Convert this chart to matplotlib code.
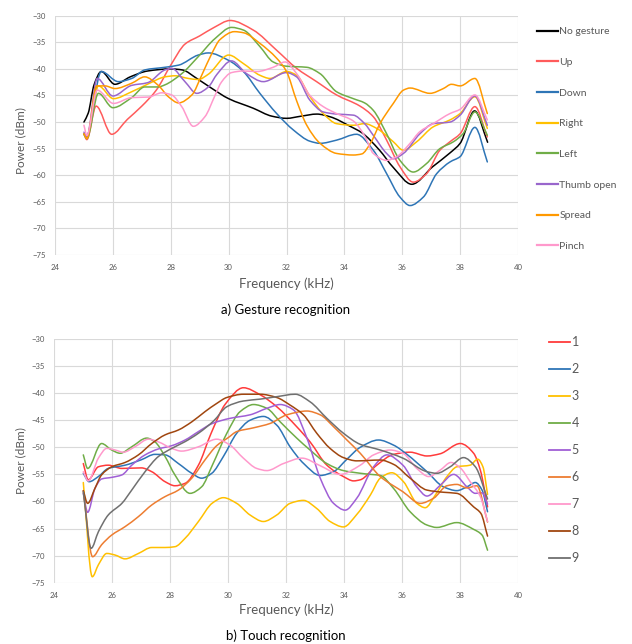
import matplotlib
matplotlib.use("Agg")
import matplotlib.pyplot as plt
import numpy as np
from matplotlib.path import Path
from matplotlib.patches import PathPatch
from matplotlib.lines import Line2D

plt.rcParams['font.family'] = ['Lato', 'DejaVu Sans']

# ---- a) gesture recognition: (frequency kHz, power dBm)
no_gesture = [(25.0,-50.0),(25.15,-48.3),(25.35,-43.0),(25.6,-40.5),(26.07,-42.9),(26.6,-41.5),(27.2,-40.4),(28.0,-40.0),(28.4,-40.2),(28.9,-41.8),(29.4,-43.6),(30.0,-45.6),(30.85,-47.4),(31.5,-48.9),(32.0,-49.3),(32.5,-48.9),(33.05,-48.5),(33.5,-49.0),(34.2,-50.8),(34.6,-52.0),(35.2,-55.2),(35.7,-58.6),(36.33,-61.7),(37.05,-58.4),(37.65,-55.8),(38.0,-54.0),(38.5,-47.9),(38.95,-53.8)]
up = [(25.0,-52.3),(25.1,-53.3),(25.42,-47.0),(25.96,-52.3),(26.5,-49.5),(27.0,-47.0),(27.5,-44.0),(28.0,-39.3),(28.5,-35.3),(29.0,-33.8),(29.5,-32.2),(30.05,-30.9),(30.85,-32.7),(31.66,-36.5),(32.35,-39.9),(33.04,-42.4),(33.73,-44.9),(34.54,-47.0),(35.0,-49.0),(35.46,-53.4),(35.92,-58.4),(36.38,-61.3),(36.84,-59.7),(37.3,-55.3),(37.65,-53.7),(38.0,-52.2),(38.51,-47.1),(38.94,-52.8)]
down = [(25.0,-52.2),(25.08,-52.8),(25.6,-40.5),(26.19,-42.4),(26.65,-41.8),(27.1,-40.2),(27.8,-39.7),(28.27,-39.3),(28.95,-37.4),(29.3,-37.0),(30.0,-38.4),(30.51,-40.5),(31.08,-44.6),(31.66,-48.4),(32.24,-51.5),(32.81,-53.6),(33.16,-54.0),(33.73,-53.4),(34.42,-52.3),(35.0,-55.3),(35.46,-59.7),(35.92,-64.1),(36.27,-65.7),(36.73,-64.1),(37.19,-59.7),(37.65,-57.5),(38.0,-56.5),(38.51,-51.0),(38.94,-57.5)]
right = [(25.0,-52.2),(25.1,-52.9),(25.5,-43.2),(26.02,-45.6),(26.65,-44.3),(27.23,-42.8),(27.8,-41.5),(28.15,-41.3),(28.61,-41.8),(28.95,-42.0),(29.3,-41.0),(30.0,-37.4),(30.51,-39.0),(31.08,-41.2),(31.43,-41.8),(32.0,-40.5),(32.35,-41.2),(32.81,-45.2),(33.27,-48.4),(33.73,-50.3),(34.31,-50.6),(34.7,-50.3),(35.12,-51.2),(35.69,-53.7),(36.04,-55.3),(36.5,-53.7),(37.07,-50.9),(37.65,-49.6),(38.0,-48.4),(38.51,-45.25),(38.94,-51.2)]
left = [(25.0,-52.3),(25.1,-53.1),(25.5,-44.6),(26.0,-47.3),(26.65,-45.4),(27.1,-43.4),(27.57,-43.4),(27.8,-43.0),(28.38,-40.9),(28.95,-37.7),(29.53,-34.3),(30.1,-32.2),(30.51,-32.7),(31.08,-35.8),(31.54,-38.7),(32.0,-39.5),(32.7,-39.7),(33.16,-40.9),(33.73,-44.3),(34.31,-45.6),(34.7,-46.4),(35.0,-47.8),(35.46,-52.2),(35.92,-57.2),(36.38,-59.4),(36.84,-57.8),(37.3,-55.0),(37.77,-53.7),(38.1,-52.2),(38.51,-48.1),(38.94,-52.5)]
thumb_open = [(25.0,-51.9),(25.1,-52.8),(25.46,-41.8),(26.0,-45.1),(26.65,-43.1),(27.2,-42.6),(27.8,-40.2),(28.03,-39.9),(28.49,-42.4),(28.9,-44.6),(29.3,-43.4),(29.6,-41.0),(30.1,-38.5),(30.62,-40.9),(31.2,-42.4),(32.0,-40.7),(32.35,-41.5),(32.81,-45.9),(33.27,-48.1),(33.73,-48.5),(34.31,-48.7),(34.7,-50.3),(35.0,-52.5),(35.46,-55.9),(35.69,-56.9),(36.04,-55.9),(36.61,-52.2),(37.07,-50.3),(37.65,-50.0),(38.0,-48.7),(38.51,-45.1),(38.94,-50.6)]
spread = [(25.0,-52.2),(25.1,-53.1),(25.44,-43.2),(25.73,-43.2),(26.07,-43.7),(26.65,-42.7),(27.1,-41.5),(27.57,-43.1),(27.92,-45.25),(28.27,-46.4),(28.73,-44.9),(29.07,-41.2),(29.42,-37.1),(29.7,-34.5),(30.2,-33.0),(30.51,-33.2),(31.08,-35.2),(31.66,-38.0),(32.0,-40.5),(32.35,-46.0),(32.7,-50.6),(33.16,-54.0),(33.73,-55.9),(34.31,-56.2),(34.6,-56.0),(34.9,-54.0),(35.23,-50.3),(35.69,-46.5),(36.04,-44.0),(36.27,-43.6),(36.96,-44.6),(37.42,-43.7),(37.7,-42.9),(38.0,-43.2),(38.51,-41.8),(38.94,-48.4)]
pinch = [(25.0,-50.6),(25.1,-52.5),(25.46,-44.0),(26.02,-46.5),(26.65,-45.4),(27.23,-45.3),(27.69,-44.5),(28.03,-44.9),(28.38,-47.1),(28.78,-50.8),(29.18,-49.0),(29.53,-45.0),(29.75,-42.5),(30.1,-40.7),(30.51,-40.4),(30.97,-40.5),(31.54,-39.7),(31.95,-38.7),(32.35,-40.9),(32.81,-45.0),(33.27,-47.1),(33.73,-48.4),(34.31,-49.8),(34.7,-52.6),(35.0,-55.9),(35.46,-57.2),(35.81,-56.5),(36.27,-54.0),(36.61,-51.8),(37.07,-50.3),(37.65,-48.4),(38.0,-47.6),(38.51,-44.9),(38.94,-49.6)]

gesture_labels = ['No gesture', 'Up', 'Down', 'Right', 'Left', 'Thumb open', 'Spread', 'Pinch']
gesture_series = [no_gesture, up, down, right, left, thumb_open, spread, pinch]
gesture_colors = ['#000000', '#FF5B5B', '#2E75B6', '#FFC000', '#70AD47', '#9966CC', '#FF9900', '#FF99CC']

# ---- b) touch recognition
t1 = [(25.0,-53.0),(25.17,-56.0),(25.52,-53.6),(25.86,-53.3),(26.33,-53.9),(27.0,-53.8),(27.36,-54.5),(27.82,-56.35),(28.16,-57.1),(28.51,-56.65),(28.97,-53.3),(29.4,-47.5),(29.9,-42.0),(30.52,-39.0),(31.1,-40.3),(31.67,-42.5),(32.36,-46.2),(32.82,-49.0),(33.4,-53.3),(33.97,-55.4),(34.32,-56.2),(34.55,-56.0),(35.12,-53.3),(35.7,-51.3),(36.27,-50.9),(36.85,-51.6),(37.3,-51.2),(38.0,-49.3),(38.46,-51.1),(38.69,-54.2),(38.94,-61.0)]
t2 = [(25.0,-54.8),(25.2,-56.35),(25.52,-55.4),(25.86,-53.9),(26.44,-53.3),(27.0,-52.3),(27.47,-51.3),(27.82,-51.4),(28.28,-53.0),(28.74,-54.8),(29.08,-55.7),(29.43,-54.8),(29.83,-51.7),(30.29,-47.4),(30.75,-45.0),(31.21,-44.3),(31.67,-45.9),(32.13,-49.9),(32.6,-53.0),(33.17,-55.2),(33.63,-54.5),(34.09,-52.2),(34.55,-50.0),(35.18,-48.65),(35.7,-49.6),(36.16,-51.3),(36.85,-54.5),(37.42,-57.3),(37.88,-58.0),(38.23,-57.3),(38.52,-56.5),(38.75,-57.9),(38.94,-61.9)]
t3 = [(25.0,-56.5),(25.31,-73.9),(25.52,-71.7),(25.81,-69.6),(26.1,-69.9),(26.44,-70.6),(26.9,-69.6),(27.36,-68.5),(27.82,-68.5),(28.16,-68.35),(28.51,-66.8),(28.97,-63.7),(29.45,-60.3),(29.83,-59.3),(30.29,-60.35),(30.75,-62.5),(31.21,-63.7),(31.67,-62.5),(32.13,-60.35),(32.59,-59.8),(33.05,-61.3),(33.51,-63.7),(33.97,-64.7),(34.43,-62.4),(34.9,-58.8),(35.24,-55.7),(35.64,-54.7),(36.04,-56.35),(36.5,-60.35),(36.79,-61.15),(37.14,-58.8),(37.54,-55.4),(37.88,-53.6),(38.34,-53.3),(38.6,-52.2),(38.78,-53.6),(38.94,-58.7)]
t4 = [(25.0,-51.4),(25.15,-53.9),(25.63,-49.3),(25.98,-50.5),(26.27,-51.1),(26.67,-49.9),(27.19,-48.3),(27.47,-49.0),(27.82,-51.7),(28.16,-55.1),(28.68,-58.5),(29.08,-57.3),(29.45,-53.3),(29.95,-47.4),(30.41,-43.4),(30.87,-42.1),(31.33,-42.8),(31.79,-45.3),(32.36,-48.3),(32.82,-50.5),(33.4,-53.0),(33.97,-54.3),(34.72,-54.9),(35.24,-55.2),(35.7,-57.6),(36.27,-61.9),(36.85,-64.35),(37.19,-64.8),(37.88,-63.9),(38.46,-65.15),(38.75,-66.2),(38.94,-69.0)]
t5 = [(25.0,-58.5),(25.15,-62.0),(25.4,-57.6),(25.63,-55.85),(25.98,-55.55),(26.33,-55.1),(26.67,-53.3),(27.13,-51.4),(27.59,-50.3),(28.05,-49.7),(28.51,-48.65),(28.97,-47.1),(29.45,-45.6),(30.06,-44.65),(30.75,-44.0),(31.33,-42.8),(31.79,-42.1),(32.25,-43.1),(32.71,-48.3),(33.17,-55.7),(33.63,-60.35),(34.03,-61.6),(34.43,-59.4),(35.01,-53.6),(35.47,-51.4),(36.02,-53.3),(36.5,-57.3),(36.85,-59.0),(37.31,-57.0),(37.77,-55.0),(38.23,-57.3),(38.52,-58.5),(38.75,-58.4),(38.94,-60.5)]
t6 = [(25.0,-58.0),(25.32,-70.2),(25.63,-68.0),(25.98,-66.2),(26.44,-64.65),(26.9,-62.8),(27.36,-60.65),(27.82,-59.1),(28.28,-57.9),(28.74,-55.7),(29.2,-52.3),(29.6,-49.7),(30.0,-48.2),(30.29,-47.1),(30.87,-46.4),(31.44,-45.6),(32.02,-44.0),(32.71,-43.3),(33.17,-44.0),(33.63,-46.2),(34.09,-48.65),(34.55,-51.1),(35.24,-55.4),(36.02,-58.2),(36.62,-60.35),(37.08,-59.4),(37.54,-57.1),(37.88,-56.85),(38.23,-57.5),(38.57,-57.1),(38.94,-63.8)]
t7 = [(25.0,-54.5),(25.17,-56.2),(25.52,-52.0),(25.81,-50.2),(26.1,-50.5),(26.38,-50.9),(26.78,-49.9),(27.25,-48.5),(27.59,-49.0),(28.05,-50.2),(28.39,-50.7),(28.97,-49.9),(29.6,-48.5),(30.06,-49.6),(30.52,-52.0),(30.98,-53.9),(31.33,-54.3),(31.9,-53.0),(32.54,-52.0),(33.17,-53.4),(33.86,-55.0),(34.55,-53.3),(35.01,-51.4),(35.58,-50.5),(36.02,-51.1),(36.5,-53.9),(36.91,-55.4),(37.31,-54.2),(37.68,-52.8),(38.0,-53.8),(38.34,-56.35),(38.69,-59.1),(38.94,-63.7)]
t8 = [(25.0,-58.0),(25.15,-60.35),(25.4,-57.6),(25.63,-55.1),(25.98,-53.6),(26.44,-52.8),(26.9,-51.4),(27.36,-49.3),(27.82,-47.7),(28.28,-46.8),(28.74,-45.3),(29.2,-43.4),(29.6,-41.9),(29.95,-40.8),(30.52,-40.2),(31.1,-40.2),(31.67,-40.8),(32.13,-42.2),(32.59,-44.0),(33.05,-47.4),(33.51,-50.2),(33.97,-51.9),(34.43,-52.5),(35.24,-52.35),(35.7,-53.15),(36.27,-55.7),(36.85,-57.9),(37.42,-58.3),(37.88,-58.5),(38.46,-61.0),(38.71,-62.2),(38.94,-66.4)]
t9 = [(25.0,-58.2),(25.27,-68.65),(25.52,-65.6),(25.86,-62.5),(26.33,-60.35),(26.67,-57.9),(27.13,-54.5),(27.59,-51.7),(28.05,-50.2),(28.51,-48.95),(28.97,-47.4),(29.5,-45.1),(29.95,-42.5),(30.52,-41.45),(31.1,-41.1),(31.67,-40.65),(32.31,-40.2),(32.82,-41.6),(33.4,-44.65),(33.97,-47.4),(34.55,-49.45),(35.24,-50.5),(36.02,-52.0),(36.85,-54.5),(37.19,-54.8),(37.65,-53.6),(38.11,-51.9),(38.52,-53.6),(38.94,-59.55)]

touch_labels = ['1', '2', '3', '4', '5', '6', '7', '8', '9']
touch_series = [t1, t2, t3, t4, t5, t6, t7, t8, t9]
touch_colors = ['#FF3B3B', '#2E75B6', '#FFC000', '#70AD47', '#A05FD6', '#ED7D31', '#FF99CC', '#A0460F', '#707070']

x_ticks = list(range(24, 41, 2))
y_ticks = list(range(-75, -29, 5))

TXT = '#595959'
GRID = '#D9D9D9'


# smoothed line like the spreadsheet's "smoothed line" option:
# cubic bezier between the read points (monotone tangents)
def smooth_line(ax, pts, color):
    x = np.array([p[0] for p in pts])
    y = np.array([p[1] for p in pts])
    h = np.diff(x)
    d = np.diff(y) / h
    m = np.zeros(len(x))
    m[0] = d[0]
    m[-1] = d[-1]
    for i in range(1, len(x) - 1):
        if d[i-1] * d[i] <= 0:
            m[i] = 0.0
        else:
            w1 = 2 * h[i] + h[i-1]
            w2 = h[i] + 2 * h[i-1]
            m[i] = (w1 + w2) / (w1 / d[i-1] + w2 / d[i])
    verts = [(x[0], y[0])]
    codes = [Path.MOVETO]
    for i in range(len(x) - 1):
        verts.append((x[i] + h[i] / 3, y[i] + m[i] * h[i] / 3))
        verts.append((x[i+1] - h[i] / 3, y[i+1] - m[i+1] * h[i] / 3))
        verts.append((x[i+1], y[i+1]))
        codes += [Path.CURVE4] * 3
    ax.add_patch(PathPatch(Path(verts, codes), fill=False, edgecolor=color,
                           lw=1.1, capstyle='round', joinstyle='round'))


def style_axes(ax):
    ax.set_xlim(24, 40)
    ax.set_ylim(-75, -30)
    ax.set_xticks(x_ticks)
    ax.set_yticks(y_ticks)
    ax.grid(True, color=GRID, lw=0.8)
    ax.set_axisbelow(True)
    for s in ax.spines.values():
        s.set_visible(False)
    ax.tick_params(length=0, labelsize=5.6, labelcolor=TXT)
    ax.tick_params(axis='x', pad=6.5)
    ax.tick_params(axis='y', pad=6.5)


fig = plt.figure(figsize=(6.32, 6.44), dpi=100)

# top chart
ax1 = fig.add_axes([55/632, 1-255/644, 463/632, 239.3/644])
style_axes(ax1)
for s, c in zip(gesture_series, gesture_colors):
    smooth_line(ax1, s, c)
h1 = [Line2D([], [], color=c, lw=1.6) for c in gesture_colors]
fig.legend(h1, gesture_labels, loc='upper left', bbox_to_anchor=(537/632, 1-27/644),
           bbox_transform=fig.transFigure, frameon=False, fontsize=7.5, labelcolor=TXT,
           handlelength=2.05, handletextpad=0.1, labelspacing=2.05, borderpad=0, borderaxespad=0)
fig.text(21/632, 1-141/644, 'Power (dBm)', rotation=90, ha='center', va='center', fontsize=8.5, color=TXT)
fig.text(286/632, 1-284/644, 'Frequency (kHz)', ha='center', va='center', fontsize=9.5, color=TXT)
fig.text(286/632, 1-310/644, 'a) Gesture recognition', ha='center', va='center', fontsize=9.5, color='black')

# bottom chart
ax2 = fig.add_axes([54.3/632, 1-582.7/644, 464/632, 243.7/644])
style_axes(ax2)
for s, c in zip(touch_series, touch_colors):
    smooth_line(ax2, s, c)
h2 = [Line2D([], [], color=c, lw=1.3) for c in touch_colors]
fig.legend(h2, touch_labels, loc='upper left', bbox_to_anchor=(549/632, 1-336/644),
           bbox_transform=fig.transFigure, frameon=False, fontsize=9, labelcolor=TXT,
           handlelength=1.7, handletextpad=0.1, labelspacing=1.2, borderpad=0, borderaxespad=0)
fig.text(21/632, 1-461/644, 'Power (dBm)', rotation=90, ha='center', va='center', fontsize=8.5, color=TXT)
fig.text(286/632, 1-610/644, 'Frequency (kHz)', ha='center', va='center', fontsize=9.5, color=TXT)
fig.text(286/632, 1-636/644, 'b) Touch recognition', ha='center', va='center', fontsize=9.5, color='black')

fig.savefig('out.png', dpi=100)
